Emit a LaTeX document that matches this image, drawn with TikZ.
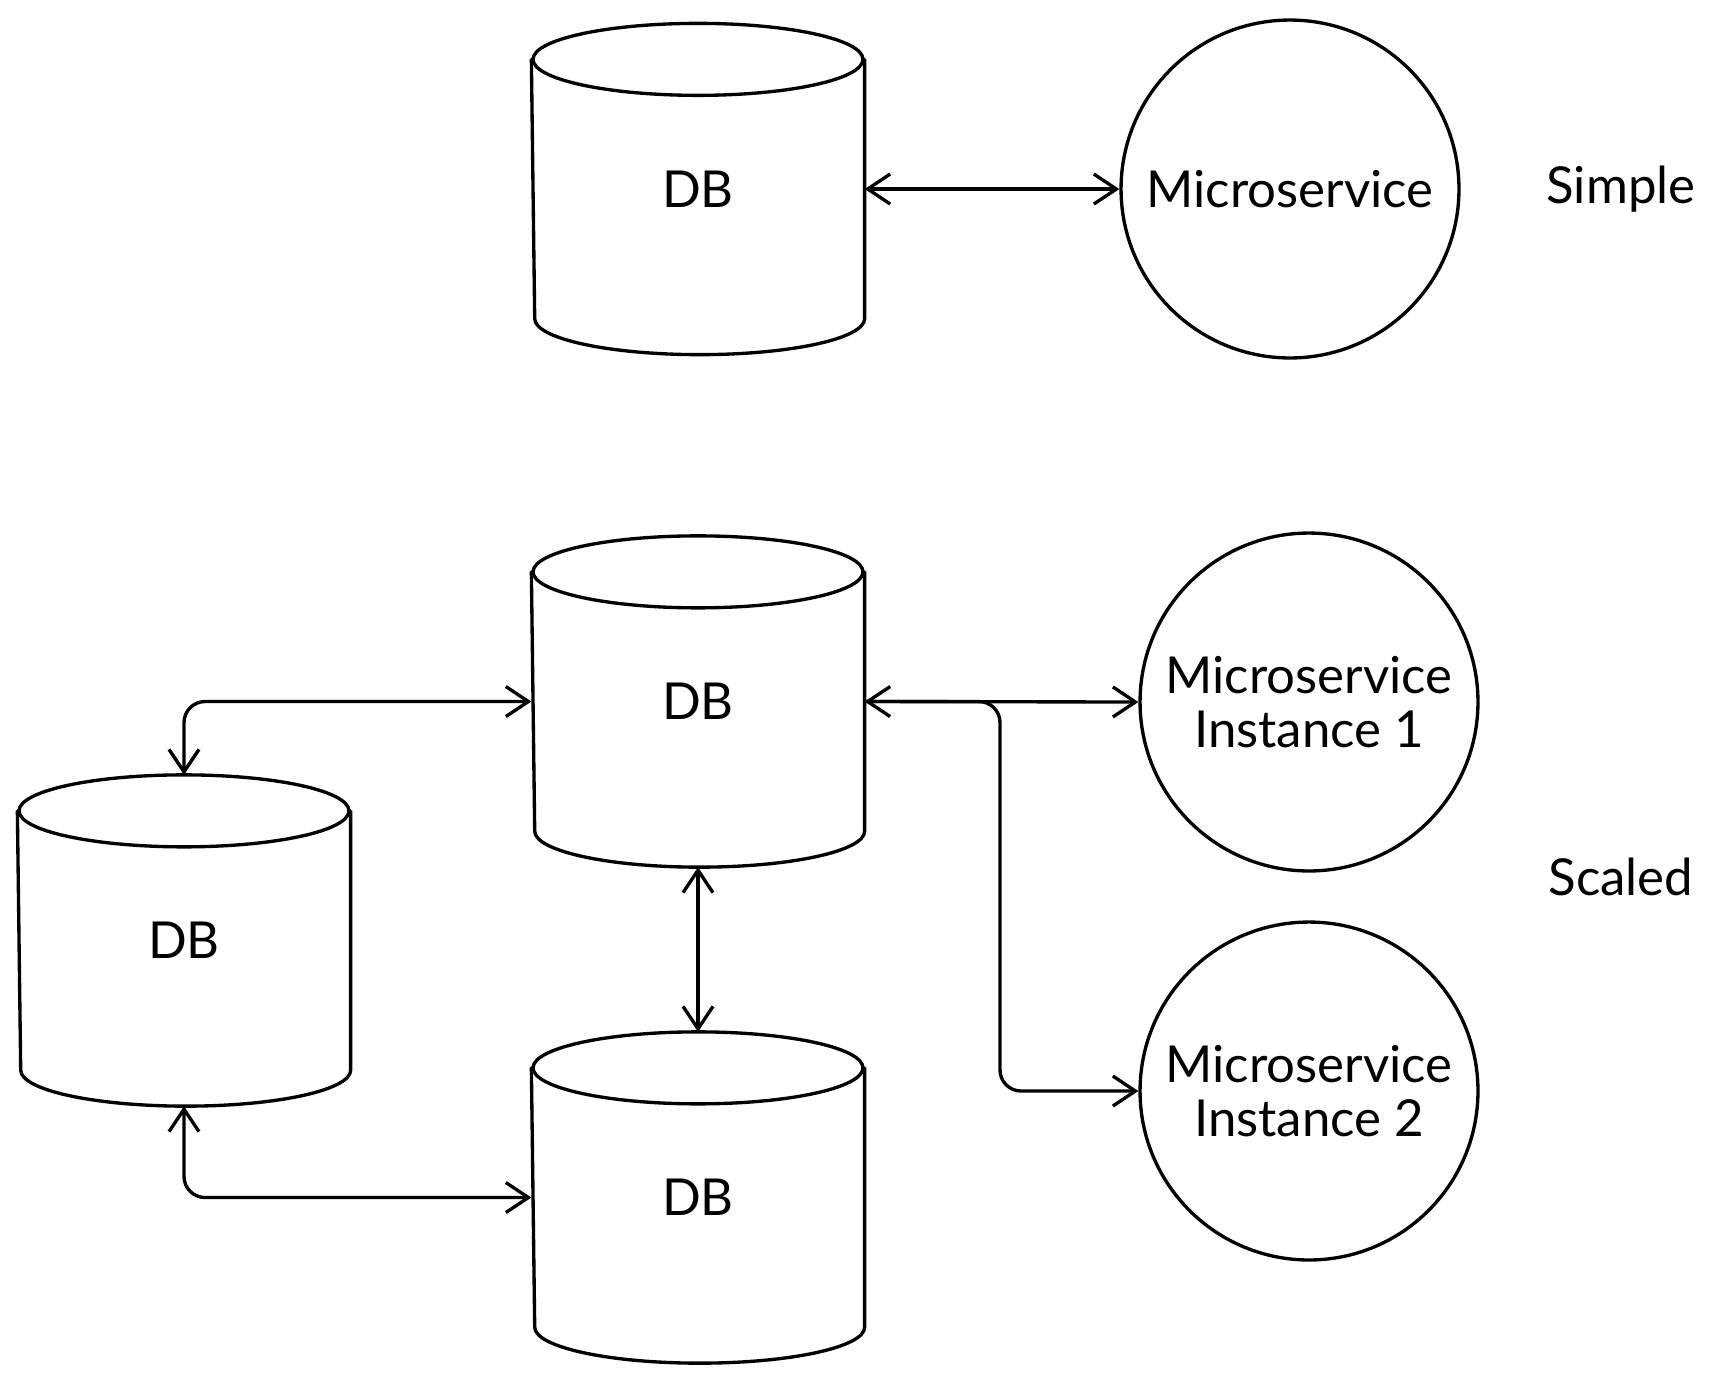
\documentclass[tikz,border=0pt]{standalone}
\usepackage{fontspec}
\setmainfont{Lato}
\usepackage{tikz}
\usetikzlibrary{shapes.geometric,arrows.meta,calc,positioning}
% outline of a database drum round a named box
\newcommand{\dbdraw}[1]{%
  \draw ([yshift=-0.72cm]#1.north) ellipse[x radius=3.3cm, y radius=0.72cm];
  \draw[line cap=round, line join=round] ([yshift=-0.72cm]#1.north east) -- ([yshift=0.72cm]#1.south east)
    arc[start angle=0, end angle=-180, x radius=3.3cm, y radius=0.72cm]
    -- ([yshift=-0.72cm]#1.north west);}

\begin{document}
\begin{tikzpicture}[x=0.02cm, y=-0.02cm, line width=1.9pt,
	>={Straight Barb[length=0.45cm,width=0.6cm]}]
	\tikzstyle{every node} = [font=\fontsize{29}{35}\selectfont]
	\tikzstyle{dbcyl} = [rectangle, minimum width = 6.6cm, minimum height = 6.56cm, inner sep=0pt]
	\tikzstyle{service} = [circle, draw = black, minimum size = 6.76cm, inner sep=0pt, align=center]
\useasboundingbox (0,0) rectangle (1719,1380);
% simple
\node[dbcyl] (db1) at (698, 189) {DB};
\node[service] (ms1) at (1290, 189) {Microservice};
\node (simple) at (1621, 189) {Simple};
	\dbdraw{db1}
	\path[draw][<->] (db1.east) -- (ms1.west);
% scaled
\node[dbcyl] (db2) at (698, 701.5) {DB};
\node[dbcyl] (db3) at (184, 940.5) {DB};
\node[dbcyl] (db4) at (698, 1197.5) {DB};
\node[service] (ms2) at (1309, 702) {Microservice\\[-4pt]Instance 1};
\node[service] (ms3) at (1309, 1091) {Microservice\\[-4pt]Instance 2};
\node (scaled) at (1621, 877) {Scaled};
	\dbdraw{db2}
	\dbdraw{db3}
	\dbdraw{db4}
\coordinate (fork) at (1000, 702);
	\path[draw][<->, rounded corners = 12pt] (db3.north) |- (db2.west);
	\path[draw][<->, rounded corners = 12pt] (db3.south) |- (db4.west);
	\path[draw][<->] (db2.south) -- (db4.north);
	\path[draw][<->] (db2.east) -- (ms2.west);
	\path[draw][->, rounded corners = 12pt] (db2.east) -| (fork |- ms3.west) -- (ms3.west);
\end{tikzpicture}
\end{document}
